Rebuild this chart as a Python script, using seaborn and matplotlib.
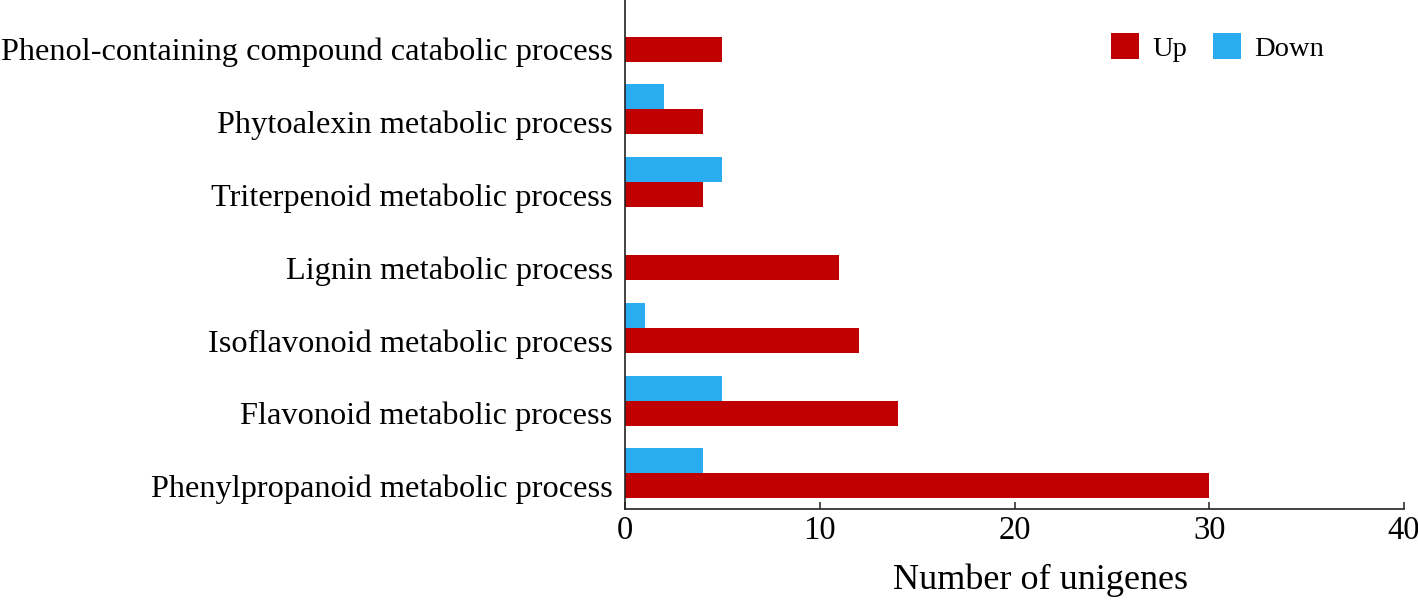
import pandas as pd
import matplotlib.pyplot as plt
import seaborn as sns

# --- Dados ---
processes = [
    "Phenol-containing compound catabolic process",
    "Phytoalexin metabolic process",
    "Triterpenoid metabolic process",
    "Lignin metabolic process",
    "Isoflavonoid metabolic process",
    "Flavonoid metabolic process",
    "Phenylpropanoid metabolic process",
]
up_counts = [5, 4, 4, 11, 12, 14, 30]
down_counts = [0, 2, 5, 0, 1, 5, 4]
x_ticks = [0, 10, 20, 30, 40]

df = pd.DataFrame({
    "process": processes * 2,
    "count": down_counts + up_counts,
    "direction": ["Down"] * len(processes) + ["Up"] * len(processes),
})

sns.set_theme(style="white")
plt.rcParams["font.family"] = ["Liberation Serif", "DejaVu Serif"]

fig = plt.figure(figsize=(14.18, 6), dpi=100)
ax = fig.add_axes([0.4408, 0.1517, 0.5493, 0.8483])

bar_w = 0.686
sns.barplot(data=df, y="process", x="count", hue="direction", hue_order=["Down", "Up"],
            palette={"Up": "#C00000", "Down": "#2AACF0"}, orient="h", width=bar_w,
            saturation=1, dodge=True, order=processes, ax=ax, edgecolor="none")

# rótulos alinhados com as barras "Up"
offset = bar_w / 4
ax.set_yticks([i + offset for i in range(len(processes))])
ax.set_yticklabels(processes, fontsize=23.3, color="black")
ax.set_ylim(len(processes) - 1 + offset + 0.316, offset - 0.673)

ax.set_xlim(0, 40)
ax.set_xticks(x_ticks)
ax.set_xticklabels([str(t) for t in x_ticks], fontsize=23.5, color="black")
ax.set_xlabel("Number of unigenes", fontsize=26, color="black")
ax.xaxis.set_label_coords(0.533, -0.107)
ax.set_ylabel("")

ax.tick_params(axis="x", direction="in", length=5, width=1.1, color="#222222", pad=5, bottom=True)
ax.tick_params(axis="y", length=0, pad=9)

for s in ["top", "right"]:
    ax.spines[s].set_visible(False)
for s in ["left", "bottom"]:
    ax.spines[s].set_color("#222222")
    ax.spines[s].set_linewidth(1.2)

handles, labels = ax.get_legend_handles_labels()
order = [labels.index("Up"), labels.index("Down")]
ax.legend([handles[i] for i in order], [labels[i] for i in order], loc="upper right",
          bbox_to_anchor=(0.93, 0.985), ncol=2, frameon=False, fontsize=20.5,
          labelcolor="black", handlelength=1.0, handleheight=1.0,
          handletextpad=0.45, columnspacing=0.9)

fig.savefig("out.png", dpi=100)
